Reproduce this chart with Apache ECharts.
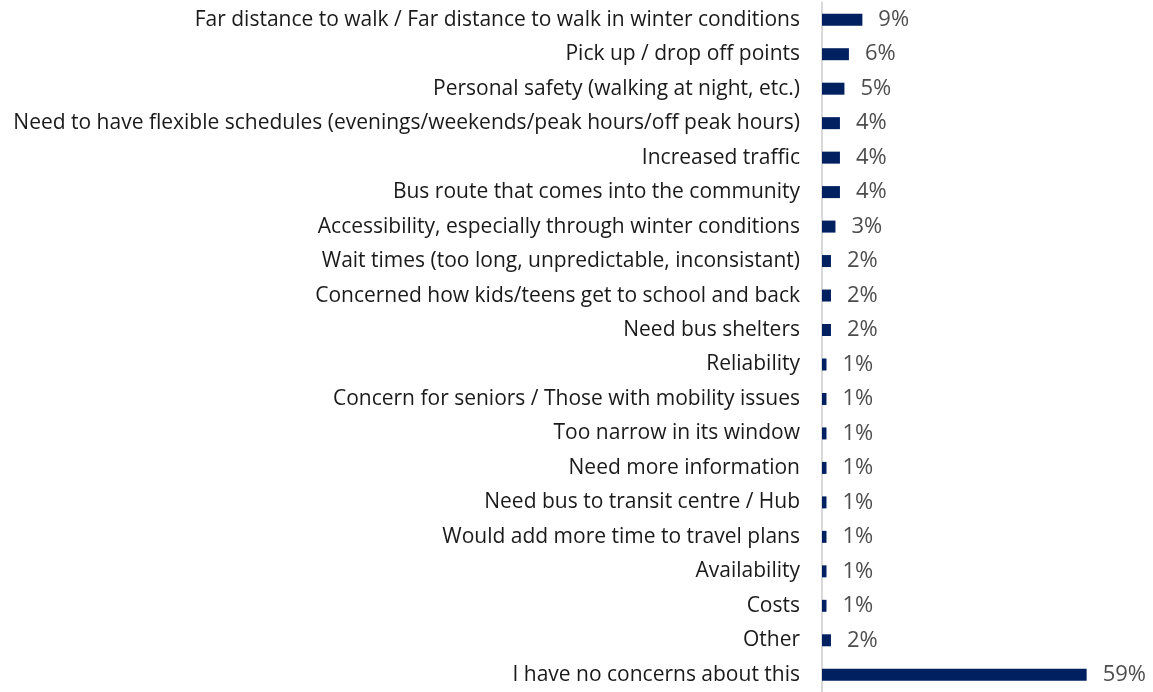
<!DOCTYPE html>
<html>
<head>
<meta charset="utf-8">
<script src="https://cdn.jsdelivr.net/npm/echarts@6/dist/echarts.min.js"></script>
<style>
  html, body { margin: 0; padding: 0; background: #ffffff; }
  #chart { width: 1153px; height: 692px; }
</style>
</head>
<body>
<div id="chart"></div>
<script>
// Concerns listed, top to bottom
const categories = [
  'Far distance to walk / Far distance to walk in winter conditions',
  'Pick up / drop off points',
  'Personal safety (walking at night, etc.)',
  'Need to have flexible schedules (evenings/weekends/peak hours/off peak hours)',
  'Increased traffic',
  'Bus route that comes into the community',
  'Accessibility, especially through winter conditions',
  'Wait times (too long, unpredictable, inconsistant)',
  'Concerned how kids/teens get to school and back',
  'Need bus shelters',
  'Reliability',
  'Concern for seniors / Those with mobility issues',
  'Too narrow in its window',
  'Need more information',
  'Need bus to transit centre / Hub',
  'Would add more time to travel plans',
  'Availability',
  'Costs',
  'Other',
  'I have no concerns about this'
];

// Share of respondents (%)
const shares = [9, 6, 5, 4, 4, 4, 3, 2, 2, 2, 1, 1, 1, 1, 1, 1, 1, 1, 2, 59];

const chart = echarts.init(document.getElementById('chart'), null, { renderer: 'canvas' });

chart.setOption({
  animation: false,
  backgroundColor: '#ffffff',
  grid: { left: 822, top: 2.5, width: 314, height: 693.5, containLabel: false },
  xAxis: {
    type: 'value',
    min: 0,
    max: 70,
    show: false
  },
  yAxis: {
    type: 'category',
    data: categories,
    inverse: true,
    axisLine: { show: true, lineStyle: { color: '#d9d9d9', width: 2 } },
    axisTick: { show: false },
    axisLabel: {
      margin: 22,
      color: '#1a1a1a',
      fontFamily: 'Open Sans',
      fontSize: 21
    }
  },
  series: [{
    type: 'bar',
    data: shares,
    barWidth: 12,
    itemStyle: { color: '#002060' },
    label: {
      show: true,
      position: 'right',
      distance: 16,
      formatter: p => p.value + '%',
      color: '#4d4d4d',
      fontFamily: 'Open Sans',
      fontSize: 22
    }
  }]
});
</script>
</body>
</html>
